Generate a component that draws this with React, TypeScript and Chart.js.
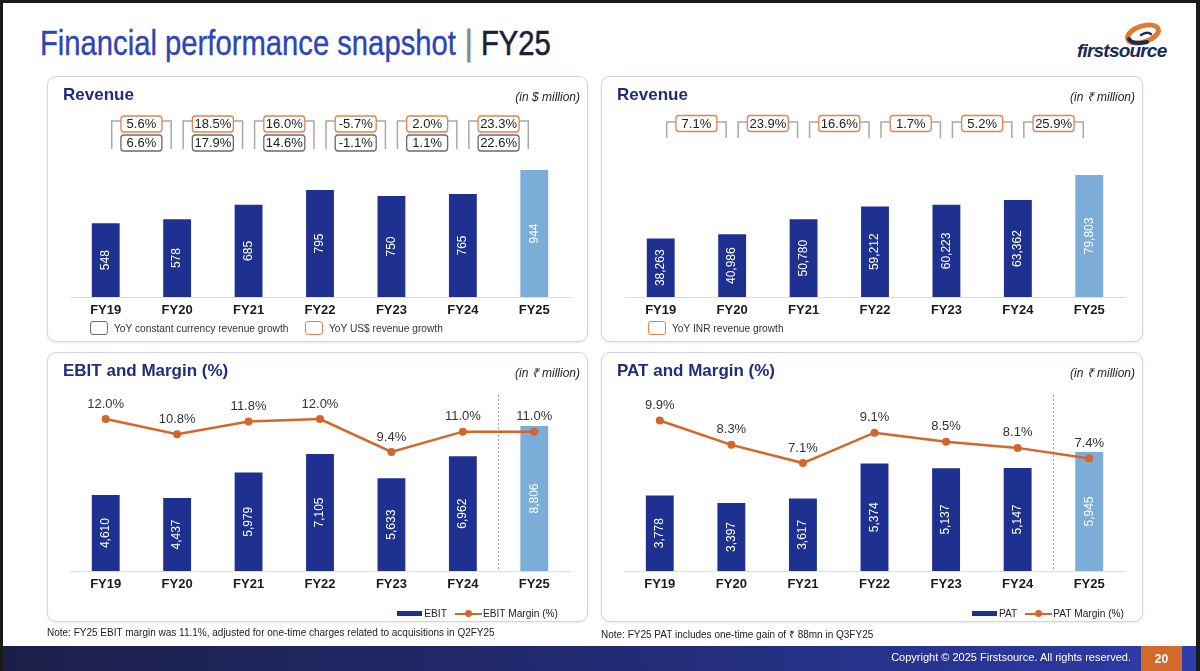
import React, { useEffect, useRef } from "react";
import { Chart, registerables } from "chart.js";

Chart.register(...registerables);

// ---------- data ----------
const categories = ["FY19", "FY20", "FY21", "FY22", "FY23", "FY24", "FY25"];
const revenueUsd = [548, 578, 685, 795, 750, 765, 944];
const usdGrowth = ["5.6%", "18.5%", "16.0%", "-5.7%", "2.0%", "23.3%"];
const ccGrowth = ["6.6%", "17.9%", "14.6%", "-1.1%", "1.1%", "22.6%"];
const revenueInr = [38263, 40986, 50780, 59212, 60223, 63362, 79803];
const inrGrowth = ["7.1%", "23.9%", "16.6%", "1.7%", "5.2%", "25.9%"];
const ebit = [4610, 4437, 5979, 7105, 5633, 6962, 8806];
const ebitMargin = [12.0, 10.8, 11.8, 12.0, 9.4, 11.0, 11.0];
const pat = [3778, 3397, 3617, 5374, 5137, 5147, 5945];
const patMargin = [9.9, 8.3, 7.1, 9.1, 8.5, 8.1, 7.4];

// ---------- styles ----------
const FONT = '"Liberation Sans", Arial, sans-serif';
const DARK = "#1f3190";
const LIGHT = "#7badd8";
const ORANGE = "#d4652b";
const BOX_ORANGE = "#e3824a";
const BOX_GRAY = "#6b6b6b";
const NAVY = "#1f2d7d";

const barColors = categories.map((_, i) => (i === categories.length - 1 ? LIGHT : DARK));

// ---------- plugins ----------
const valueLabels = {
  id: "valueLabels",
  afterDatasetsDraw(chart: any) {
    const ctx = chart.ctx;
    chart.data.datasets.forEach((ds: any, di: number) => {
      const meta = chart.getDatasetMeta(di);
      if (meta.type === "bar") {
        meta.data.forEach((el: any, i: number) => {
          const { x, y, base } = el.getProps(["x", "y", "base"], true);
          ctx.save();
          ctx.translate(x, (y + base) / 2);
          ctx.rotate(-Math.PI / 2);
          ctx.fillStyle = "#ffffff";
          ctx.font = `12px ${FONT}`;
          ctx.textAlign = "center";
          ctx.textBaseline = "middle";
          ctx.fillText(Number(ds.data[i]).toLocaleString("en-US"), 0, 0);
          ctx.restore();
        });
      } else if (meta.type === "line") {
        meta.data.forEach((el: any, i: number) => {
          ctx.save();
          ctx.fillStyle = "#333333";
          ctx.font = `13px ${FONT}`;
          ctx.textAlign = "center";
          ctx.textBaseline = "middle";
          ctx.fillText(Number(ds.data[i]).toFixed(1) + "%", el.x, el.y - 15);
          ctx.restore();
        });
      }
    });
  },
};

const separator = {
  id: "separator",
  beforeDatasetsDraw(chart: any, _a: any, opts: any) {
    if (!opts || !opts.show) return;
    const xs = chart.scales.x;
    const n = chart.data.labels.length;
    const x = (xs.getPixelForValue(n - 2) + xs.getPixelForValue(n - 1)) / 2;
    const ctx = chart.ctx;
    ctx.save();
    ctx.strokeStyle = "#9a9a9a";
    ctx.lineWidth = 1;
    ctx.setLineDash([2, 2]);
    ctx.beginPath();
    ctx.moveTo(x, chart.chartArea.top - 5);
    ctx.lineTo(x, chart.chartArea.bottom);
    ctx.stroke();
    ctx.restore();
  },
};

const growthBoxes = {
  id: "growthBoxes",
  afterDraw(chart: any, _a: any, opts: any) {
    if (!opts || !opts.rows) return;
    const ctx = chart.ctx;
    const xs = chart.scales.x;
    const n = chart.data.labels.length;
    for (let i = 0; i < n - 1; i++) {
      const a = xs.getPixelForValue(i);
      const b = xs.getPixelForValue(i + 1);
      ctx.save();
      ctx.strokeStyle = "#a8a8a8";
      ctx.lineWidth = 1.5;
      ctx.beginPath();
      ctx.moveTo(a + 6, opts.bracketBottom);
      ctx.lineTo(a + 6, opts.bracketY);
      ctx.lineTo(b - 6, opts.bracketY);
      ctx.lineTo(b - 6, opts.bracketBottom);
      ctx.stroke();
      const cx = (a + b) / 2;
      opts.rows.forEach((row: any) => {
        const w = 41;
        const h = 16;
        ctx.beginPath();
        ctx.roundRect(cx - w / 2, row.cy - h / 2, w, h, 3);
        ctx.fillStyle = "#ffffff";
        ctx.fill();
        ctx.lineWidth = 1.3;
        ctx.strokeStyle = row.color;
        ctx.stroke();
        ctx.fillStyle = "#222222";
        ctx.font = `13px ${FONT}`;
        ctx.textAlign = "center";
        ctx.textBaseline = "middle";
        ctx.fillText(row.labels[i], cx, row.cy + 0.5);
      });
      ctx.restore();
    }
  },
};

type Cfg = {
  values: number[];
  max: number;
  line?: number[];
  lineMax?: number;
  padding: { left: number; right: number; top: number; bottom: number };
  axisHeight: number;
  growth?: any;
  separator?: boolean;
};

function makeConfig(c: Cfg): any {
  const datasets: any[] = [];
  if (c.line) {
    datasets.push({
      type: "line",
      data: c.line,
      yAxisID: "y2",
      borderColor: ORANGE,
      backgroundColor: ORANGE,
      borderWidth: 2.5,
      pointRadius: 4,
      pointBackgroundColor: ORANGE,
      pointBorderWidth: 0,
      tension: 0,
      order: 0,
    });
  }
  datasets.push({
    type: "bar",
    data: c.values,
    yAxisID: "y",
    backgroundColor: barColors,
    barPercentage: 0.39,
    categoryPercentage: 1,
    order: 1,
  });
  return {
    type: "bar",
    data: { labels: categories, datasets },
    options: {
      animation: false,
      responsive: false,
      events: [],
      layout: { padding: c.padding },
      plugins: {
        legend: { display: false },
        tooltip: { enabled: false },
        growthBoxes: c.growth || {},
        separator: { show: !!c.separator },
      },
      scales: {
        x: {
          grid: { display: false, drawTicks: false },
          border: { display: true, color: "#dedede", width: 1 },
          ticks: {
            color: "#1a1a1a",
            font: { family: FONT, size: 13, weight: "bold" },
            padding: 6,
          },
          afterFit: (s: any) => {
            s.height = c.axisHeight;
          },
        },
        y: { display: false, min: 0, max: c.max },
        y2: { display: false, min: 0, max: c.lineMax || 1, position: "right" },
      },
    },
    plugins: [valueLabels, separator, growthBoxes],
  };
}

function ChartCanvas({ width, height, cfg }: { width: number; height: number; cfg: Cfg }) {
  const ref = useRef<HTMLCanvasElement>(null);
  useEffect(() => {
    const chart = new Chart(ref.current as HTMLCanvasElement, makeConfig(cfg));
    return () => chart.destroy();
  }, []);
  return (
    <canvas
      ref={ref}
      width={width}
      height={height}
      style={{ position: "absolute", left: 0, top: 0, width, height }}
    />
  );
}

function Panel(props: {
  left: number;
  top: number;
  width: number;
  height: number;
  title: string;
  unit: string;
  cfg: Cfg;
  children?: any;
}) {
  const { left, top, width, height, title, unit, cfg, children } = props;
  return (
    <div
      style={{
        position: "absolute",
        left,
        top,
        width,
        height,
        boxSizing: "border-box",
        border: "1px solid #cfd2ea",
        borderRadius: 9,
        background: "#fff",
        boxShadow: "0 1px 3px rgba(0,0,0,0.08)",
      }}
    >
      <ChartCanvas width={width - 2} height={height - 2} cfg={cfg} />
      <div
        style={{
          position: "absolute",
          left: 15,
          top: 8,
          fontFamily: FONT,
          fontWeight: "bold",
          fontSize: 17,
          color: NAVY,
          whiteSpace: "nowrap",
        }}
      >
        {title}
      </div>
      <div
        style={{
          position: "absolute",
          right: 7,
          top: 13,
          fontFamily: FONT,
          fontStyle: "italic",
          fontSize: 12,
          lineHeight: "14px",
          color: "#222",
          whiteSpace: "nowrap",
        }}
      >
        {unit}
      </div>
      {children}
    </div>
  );
}

function BoxLegend({ left, top, color, text }: { left: number; top: number; color: string; text: string }) {
  return (
    <div style={{ position: "absolute", left, top, display: "flex", alignItems: "center", whiteSpace: "nowrap" }}>
      <div
        style={{
          width: 16,
          height: 12,
          border: `1.3px solid ${color}`,
          borderRadius: 3,
          marginRight: 6,
        }}
      />
      <span style={{ fontFamily: FONT, fontSize: 10.2, color: "#333" }}>{text}</span>
    </div>
  );
}

function SeriesLegend({ right, top, bar, line }: { right: number; top: number; bar: string; line: string }) {
  return (
    <div style={{ position: "absolute", right, top, display: "flex", alignItems: "center", whiteSpace: "nowrap" }}>
      <div style={{ width: 25, height: 5, background: DARK, marginRight: 2 }} />
      <span style={{ fontFamily: FONT, fontSize: 10.2, color: "#222", marginRight: 8 }}>{bar}</span>
      <div style={{ position: "relative", width: 27, height: 10, marginRight: 1 }}>
        <div style={{ position: "absolute", left: 0, top: 4, width: 27, height: 2.5, background: ORANGE }} />
        <div
          style={{
            position: "absolute",
            left: 10,
            top: 1.5,
            width: 7,
            height: 7,
            borderRadius: "50%",
            background: ORANGE,
          }}
        />
      </div>
      <span style={{ fontFamily: FONT, fontSize: 10.2, color: "#222" }}>{line}</span>
    </div>
  );
}

export default function App() {
  useEffect(() => {
    document.body.style.margin = "0";
  }, []);
  return (
    <div
      style={{
        position: "fixed",
        left: 0,
        top: 0,
        width: 1200,
        height: 671,
        background: "#1b1b1b",
        overflow: "hidden",
      }}
    >
      <div style={{ position: "absolute", left: 3, top: 3, width: 1193, height: 668, background: "#ffffff" }} />

      {/* Title */}
      <div
        style={{
          position: "absolute",
          left: 40,
          top: 23,
          fontFamily: FONT,
          fontSize: 35,
          whiteSpace: "nowrap",
          lineHeight: "40px",
          transform: "scaleX(0.835)",
          transformOrigin: "0 0",
        }}
      >
        <span style={{ color: "#2e45b6", WebkitTextStroke: "0.35px #2e45b6" }}>Financial performance snapshot</span>
        <span style={{ color: "#8a8a8a", margin: "0 10px 0 11px", WebkitTextStroke: "1px #8a8a8a" }}>|</span>
        <span style={{ color: "#1b1d3a", WebkitTextStroke: "0.6px #1b1d3a" }}>FY25</span>
      </div>

      {/* Logo */}
      <svg style={{ position: "absolute", left: 1070, top: 12, width: 110, height: 54 }} viewBox="0 0 110 54">
        <ellipse
          cx="73"
          cy="22"
          rx="16"
          ry="8"
          transform="rotate(-18 73 22)"
          fill="none"
          stroke="#e07a2e"
          strokeWidth="5"
        />
        <path d="M 59 27 Q 62 33 77 30" fill="none" stroke="#1c2a5a" strokeWidth="4" strokeLinecap="round" />
        <path d="M 71 23 Q 77 19 81 22" fill="none" stroke="#1c2a5a" strokeWidth="2.5" strokeLinecap="round" />
        <text
          x="7"
          y="45"
          fontFamily={FONT}
          fontStyle="italic"
          fontWeight="bold"
          fontSize="19"
          fill="#1c2a5a"
          letterSpacing="-0.8"
        >
          firstsource
        </text>
      </svg>

      {/* Panel 1 */}
      <Panel
        left={47}
        top={76}
        width={541}
        height={266}
        title="Revenue"
        unit="(in $ million)"
        cfg={{
          values: revenueUsd,
          max: 1018,
          padding: { left: 22, right: 17, top: 83, bottom: 20 },
          axisHeight: 24,
          growth: {
            bracketY: 44,
            bracketBottom: 72,
            rows: [
              { labels: usdGrowth, color: BOX_ORANGE, cy: 47 },
              { labels: ccGrowth, color: BOX_GRAY, cy: 66 },
            ],
          },
        }}
      >
        <BoxLegend left={42} top={244} color={BOX_GRAY} text="YoY constant currency revenue growth" />
        <BoxLegend left={257} top={244} color={BOX_ORANGE} text="YoY US$ revenue growth" />
      </Panel>

      {/* Panel 2 */}
      <Panel
        left={601}
        top={76}
        width={542}
        height={266}
        title="Revenue"
        unit="(in ₹ million)"
        cfg={{
          values: revenueInr,
          max: 89535,
          padding: { left: 23, right: 17, top: 83, bottom: 20 },
          axisHeight: 24,
          growth: {
            bracketY: 45,
            bracketBottom: 61,
            rows: [{ labels: inrGrowth, color: BOX_ORANGE, cy: 46.5 }],
          },
        }}
      >
        <BoxLegend left={46} top={244} color={BOX_ORANGE} text="YoY INR revenue growth" />
      </Panel>

      {/* Panel 3 */}
      <Panel
        left={47}
        top={352}
        width={541}
        height={270}
        title="EBIT and Margin (%)"
        unit="(in ₹ million)"
        cfg={{
          values: ebit,
          max: 10385,
          line: ebitMargin,
          lineMax: 13.5,
          padding: { left: 22, right: 17, top: 47, bottom: 26 },
          axisHeight: 24,
          separator: true,
        }}
      >
        <SeriesLegend right={29} top={255} bar="EBIT" line="EBIT Margin (%)" />
      </Panel>

      {/* Panel 4 */}
      <Panel
        left={601}
        top={352}
        width={542}
        height={270}
        title="PAT and Margin (%)"
        unit="(in ₹ million)"
        cfg={{
          values: pat,
          max: 8543,
          line: patMargin,
          lineMax: 11.25,
          padding: { left: 22, right: 17, top: 47, bottom: 26 },
          axisHeight: 24,
          separator: true,
        }}
      >
        <SeriesLegend right={18} top={255} bar="PAT" line="PAT Margin (%)" />
      </Panel>

      {/* Notes */}
      <div style={{ position: "absolute", left: 47, top: 627, fontFamily: FONT, fontSize: 10, color: "#222", whiteSpace: "nowrap" }}>
        Note: FY25 EBIT margin was 11.1%, adjusted for one-time charges related to acquisitions in Q2FY25
      </div>
      <div style={{ position: "absolute", left: 601, top: 627, fontFamily: FONT, fontSize: 10, color: "#222", whiteSpace: "nowrap" }}>
        Note: FY25 PAT includes one-time gain of ₹ 88mn in Q3FY25
      </div>

      {/* Footer */}
      <div
        style={{
          position: "absolute",
          left: 3,
          top: 646,
          width: 1193,
          height: 25,
          background: "linear-gradient(90deg, #1b1f48 0%, #232c78 55%, #2d3ca8 100%)",
        }}
      />
      <div
        style={{
          position: "absolute",
          right: 1200 - 1131,
          top: 651,
          fontFamily: FONT,
          fontSize: 11,
          color: "#ffffff",
          whiteSpace: "nowrap",
        }}
      >
        Copyright © 2025 Firstsource. All rights reserved.
      </div>
      <div
        style={{
          position: "absolute",
          left: 1141,
          top: 646,
          width: 41,
          height: 25,
          background: "#d2692d",
          color: "#fff",
          fontFamily: FONT,
          fontWeight: "bold",
          fontSize: 12,
          display: "flex",
          alignItems: "center",
          justifyContent: "center",
        }}
      >
        20
      </div>
    </div>
  );
}
